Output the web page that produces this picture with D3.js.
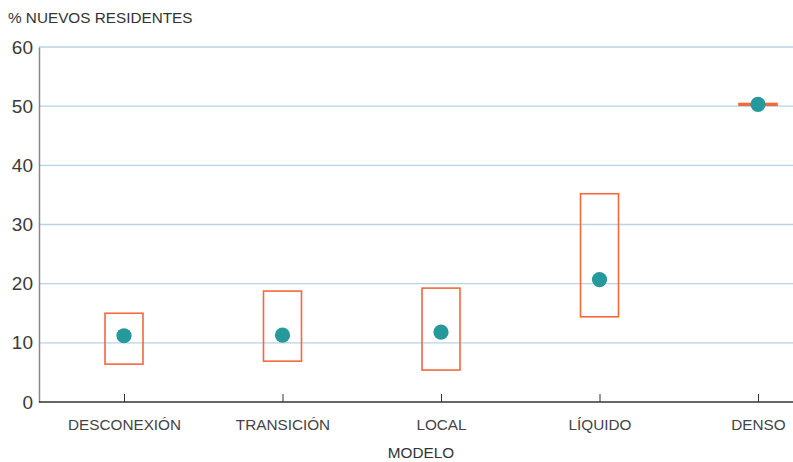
<!DOCTYPE html>
<html><head><meta charset="utf-8">
<script src="https://cdn.jsdelivr.net/npm/d3@7"></script>
<style>body{margin:0;background:#fff}svg{display:block;font-family:"Liberation Sans",Arial,sans-serif}</style>
</head><body><div id="c"></div>
<script>
const categories = ["DESCONEXIÓN","TRANSICIÓN","LOCAL","LÍQUIDO","DENSO"];
const lowValues  = [6.4, 6.9, 5.4, 14.4, 50.15];
const highValues = [15.0, 18.75, 19.25, 35.2, 50.45];
const meanValues = [11.2, 11.3, 11.8, 20.7, 50.3];
const yTicks = [0,10,20,30,40,50,60];

(function(){
const W=793,H=462, mLeft=39, mRight=793, mTop=47, mBottom=402;
const svg=d3.select("#c").append("svg").attr("width",W).attr("height",H);
const x=d3.scalePoint().domain(categories).range([124,758]);
const y=d3.scaleLinear().domain([0,60]).range([mBottom,mTop]);

// gridlines
svg.append("g").selectAll("line").data(yTicks.filter(d=>d>0)).join("line")
 .attr("x1",mLeft).attr("x2",mRight).attr("y1",d=>y(d)).attr("y2",d=>y(d))
 .attr("stroke","#b9d2e4").attr("stroke-width",1.3);

// y axis
const ya=svg.append("g").attr("transform",`translate(${mLeft},0)`)
 .call(d3.axisLeft(y).tickValues(yTicks).tickSize(0).tickPadding(6));
ya.select(".domain").attr("stroke","#888").attr("stroke-width",1.5);
ya.selectAll("text").attr("font-size",19).attr("fill","#3a3a3a")
 .attr("font-family","'Liberation Sans',Arial,sans-serif");

// x axis
const xa=svg.append("g").attr("transform",`translate(0,${mBottom})`)
 .call(d3.axisBottom(x).tickSize(-8).tickPadding(14).tickSizeOuter(0));
xa.select(".domain").attr("d",`M${mLeft},0H${mRight}`).attr("stroke","#333").attr("stroke-width",1.3);
xa.selectAll(".tick line").attr("stroke","#333");
xa.selectAll("text").attr("font-size",15.3).attr("fill","#444")
 .attr("font-family","'Liberation Sans',Arial,sans-serif").attr("dy","0.9em");

// boxes
const data=categories.map((c,i)=>({c,lo:lowValues[i],hi:highValues[i],m:meanValues[i]}));
svg.append("g").selectAll("rect").data(data).join("rect")
 .attr("x",d=>x(d.c)-19).attr("width",38)
 .attr("y",d=>y(d.hi)).attr("height",d=>y(d.lo)-y(d.hi))
 .attr("fill",d=>d.hi-d.lo<1?"#f26631":"none")
 .attr("stroke","#f26a3c").attr("stroke-width",1.6);

// dots
svg.append("g").selectAll("circle").data(data).join("circle")
 .attr("cx",d=>x(d.c)).attr("cy",d=>y(d.m)).attr("r",7.6).attr("fill","#26999c");

// titles
svg.append("text").attr("x",8).attr("y",23).attr("font-size",15.3).attr("fill","#333").text("% NUEVOS RESIDENTES");
svg.append("text").attr("x",421).attr("y",458).attr("text-anchor","middle").attr("font-size",15.3).attr("fill","#333").text("MODELO");
})();
</script></body></html>
